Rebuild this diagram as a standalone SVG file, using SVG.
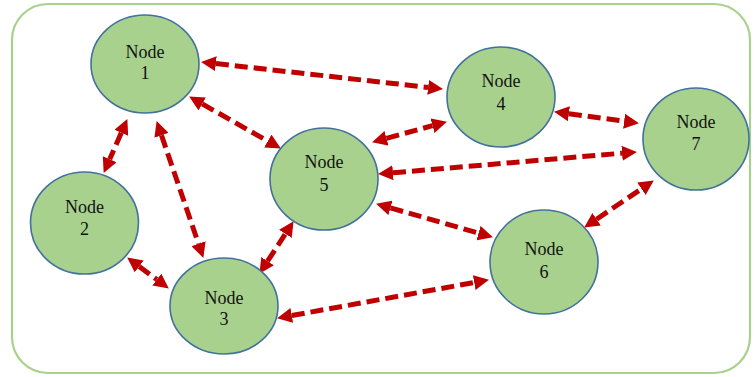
<svg xmlns="http://www.w3.org/2000/svg" width="755" height="377" viewBox="0 0 755 377">
<style>
.frame{fill:#ffffff;stroke:#a9d18e;stroke-width:2.2}
.node ellipse{fill:#a9d18e;stroke:#41719c;stroke-width:1.6}
.node text{font-family:"Liberation Serif","Times New Roman",serif;font-size:18px;fill:#111111;text-anchor:middle}
.edge{stroke:#c00000;stroke-width:5;stroke-dasharray:13 6;fill:none;marker-start:url(#ah);marker-end:url(#ah)}
</style>
<defs>
<marker id="ah" markerUnits="userSpaceOnUse" markerWidth="16" markerHeight="15" refX="0" refY="7.5" orient="auto-start-reverse" viewBox="0 0 16 15">
<path d="M0,0 L15,7.5 L0,15 z" fill="#c00000"/>
</marker>
</defs>
<rect class="frame" x="12" y="4" width="738" height="369" rx="36" ry="36"/>
<g id="connectors">
<line class="edge" x1="215.9" y1="63.6" x2="428.1" y2="87.4"/>
<line class="edge" x1="202.2" y1="103.9" x2="267.8" y2="141.1"/>
<line class="edge" x1="121.3" y1="132.8" x2="109.7" y2="159.2"/>
<line class="edge" x1="161.5" y1="135.3" x2="198.5" y2="243.7"/>
<line class="edge" x1="139.2" y1="266.4" x2="156.8" y2="279.6"/>
<line class="edge" x1="267.6" y1="261.2" x2="285.4" y2="233.8"/>
<line class="edge" x1="291.8" y1="315.5" x2="474.2" y2="282.5"/>
<line class="edge" x1="386.5" y1="138.3" x2="432.5" y2="125.7"/>
<line class="edge" x1="393" y1="172.8" x2="622" y2="153.2"/>
<line class="edge" x1="390.5" y1="207.9" x2="478.5" y2="233.1"/>
<line class="edge" x1="568.9" y1="113.8" x2="624.1" y2="121.2"/>
<line class="edge" x1="596.6" y1="219.2" x2="641.4" y2="188.8"/>
</g>
<g id="node1" class="node"><ellipse cx="145" cy="64" rx="54" ry="49"/><text x="145" y="58">Node</text><text x="145" y="79">1</text></g>
<g id="node2" class="node"><ellipse cx="84.5" cy="223" rx="54" ry="51"/><text x="84.5" y="213">Node</text><text x="84.5" y="235">2</text></g>
<g id="node3" class="node"><ellipse cx="224" cy="306" rx="54" ry="48"/><text x="224" y="304">Node</text><text x="224" y="325">3</text></g>
<g id="node4" class="node"><ellipse cx="501" cy="97" rx="54" ry="50"/><text x="501" y="87">Node</text><text x="501" y="110">4</text></g>
<g id="node5" class="node"><ellipse cx="324" cy="179" rx="54" ry="51"/><text x="324" y="168">Node</text><text x="324" y="191">5</text></g>
<g id="node6" class="node"><ellipse cx="544" cy="262" rx="54" ry="52"/><text x="544" y="255">Node</text><text x="544" y="278">6</text></g>
<g id="node7" class="node"><ellipse cx="696" cy="139" rx="53" ry="51"/><text x="696" y="128">Node</text><text x="696" y="150">7</text></g>
</svg>
